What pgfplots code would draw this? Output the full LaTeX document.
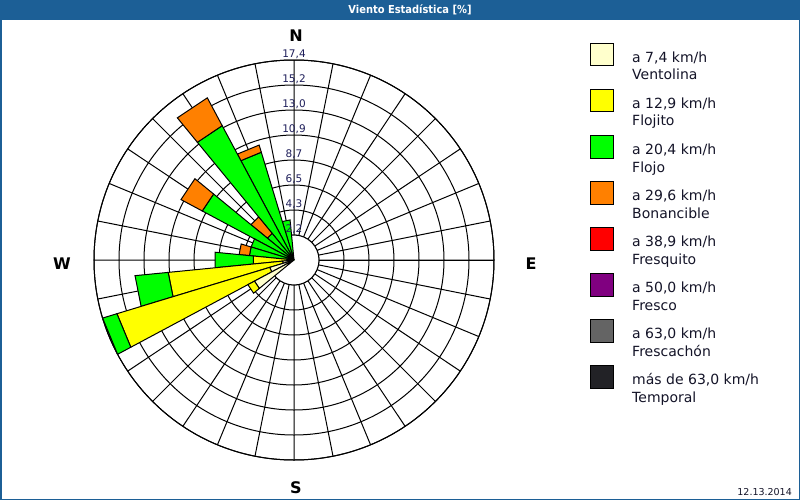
\documentclass[border=0pt]{standalone}
\usepackage{fontspec}
\setmainfont{DejaVu Sans}
\usepackage{graphicx}
\usepackage{pgfplots}
\pgfplotsset{compat=1.18}
\usepgfplotslibrary{polar}
\definecolor{titleblue}{RGB}{28,95,150}
\definecolor{cVent}{RGB}{255,255,204}
\definecolor{cFlojito}{RGB}{255,255,0}
\definecolor{cFlojo}{RGB}{0,255,0}
\definecolor{cBonan}{RGB}{255,128,0}
\definecolor{cFresq}{RGB}{255,0,0}
\definecolor{cFresco}{RGB}{128,0,128}
\definecolor{cFrescachon}{RGB}{100,100,100}
\definecolor{cTemp}{RGB}{34,34,38}
\definecolor{labblue}{RGB}{30,30,90}
\definecolor{legtext}{RGB}{20,20,40}
\begin{document}
\begin{tikzpicture}
\useasboundingbox (0pt,0pt) rectangle (800pt,-500pt);
\fill[white] (0pt,0pt) rectangle (800pt,-500pt);
\fill[titleblue] (0pt,0pt) rectangle (800pt,-20pt);
\draw[titleblue,line width=1.5pt] (0.75pt,-0.75pt) rectangle (799.25pt,-499.25pt);
\node[text=white,font=\bfseries\fontsize{11}{13}\selectfont] at (410pt,-10pt) {\scalebox{0.9}[1]{Viento Estadística [\%]}};

\begin{polaraxis}[
  at={(294pt,-260pt)}, anchor=center,
  scale only axis, width=400pt, height=400pt,
  xmin=0, xmax=360, ymin=0, ymax=17.4,
  xtick={0,11.25,...,348.75},
  ytick={2.175,4.35,6.525,8.7,10.875,13.05,15.225,17.4},
  xticklabels={}, yticklabels={},
  major tick length=0pt,
  grid=major,
  major grid style={black,line width=1pt},
  axis line style={black,line width=1pt},
  clip=false,
]
% inner calm disk (covers spokes)
\addplot[fill=white,draw=black,line width=1pt] coordinates {
(0,2.175) (11.25,2.175) (22.5,2.175) (33.75,2.175) (45,2.175) (56.25,2.175) (67.5,2.175) (78.75,2.175)
(90,2.175) (101.25,2.175) (112.5,2.175) (123.75,2.175) (135,2.175) (146.25,2.175) (157.5,2.175) (168.75,2.175)
(180,2.175) (191.25,2.175) (202.5,2.175) (213.75,2.175) (225,2.175) (236.25,2.175) (247.5,2.175) (258.75,2.175)
(270,2.175) (281.25,2.175) (292.5,2.175) (303.75,2.175) (315,2.175) (326.25,2.175) (337.5,2.175) (348.75,2.175) (360,2.175)};

\pgfplotsset{bar/.style={draw=black,line width=1pt,line join=miter}}
% k=-1
\addplot[bar,fill=cFlojo] coordinates {(101.25,0) (95.625,3.5) (106.875,3.5) (101.25,0)};
% k=-2
\addplot[bar,fill=cFlojo] coordinates {(112.5,0) (106.875,9.8) (118.125,9.8) (112.5,0)};
\addplot[bar,fill=cBonan] coordinates {(106.875,9.8) (118.125,9.8) (118.125,10.45) (106.875,10.45) (106.875,9.8)};
% k=-3
\addplot[bar,fill=cFlojo] coordinates {(123.75,0) (118.125,13.25) (129.375,13.25) (123.75,0)};
\addplot[bar,fill=cBonan] coordinates {(118.125,13.25) (129.375,13.25) (129.375,16.0) (118.125,16.0) (118.125,13.25)};
% k=-4
\addplot[bar,fill=cFlojo] coordinates {(135,0) (129.375,3.0) (140.625,3.0) (135,0)};
\addplot[bar,fill=cBonan] coordinates {(129.375,3.0) (140.625,3.0) (140.625,4.85) (129.375,4.85) (129.375,3.0)};
% k=-5
\addplot[bar,fill=cFlojo] coordinates {(146.25,0) (140.625,9.05) (151.875,9.05) (146.25,0)};
\addplot[bar,fill=cBonan] coordinates {(140.625,9.05) (151.875,9.05) (151.875,11.15) (140.625,11.15) (140.625,9.05)};
% k=-6
\addplot[bar,fill=cFlojo] coordinates {(157.5,0) (151.875,3.9) (163.125,3.9) (157.5,0)};
% k=-7
\addplot[bar,fill=cFlojo] coordinates {(168.75,0) (163.125,3.9) (174.375,3.9) (168.75,0)};
\addplot[bar,fill=cBonan] coordinates {(163.125,3.9) (174.375,3.9) (174.375,4.8) (163.125,4.8) (163.125,3.9)};
% k=-8 (W)
\addplot[bar,fill=cFlojito] coordinates {(180,0) (174.375,3.55) (185.625,3.55) (180,0)};
\addplot[bar,fill=cFlojo] coordinates {(174.375,3.55) (185.625,3.55) (185.625,6.9) (174.375,6.9) (174.375,3.55)};
% k=-9
\addplot[bar,fill=cVent] coordinates {(191.25,0) (185.625,1.0) (196.875,1.0) (191.25,0)};
\addplot[bar,fill=cFlojito] coordinates {(185.625,1.0) (196.875,1.0) (196.875,11.0) (185.625,11.0) (185.625,1.0)};
\addplot[bar,fill=cFlojo] coordinates {(185.625,11.0) (196.875,11.0) (196.875,13.9) (185.625,13.9) (185.625,11.0)};
% k=-10
\addplot[bar,fill=cVent] coordinates {(202.5,0) (196.875,2.2) (208.125,2.2) (202.5,0)};
\addplot[bar,fill=cFlojito] coordinates {(196.875,2.2) (208.125,2.2) (208.125,16.1) (196.875,16.1) (196.875,2.2)};
\addplot[bar,fill=cFlojo] coordinates {(196.875,16.1) (208.125,16.1) (208.125,17.4) (196.875,17.4) (196.875,16.1)};
% k=-11
\addplot[bar,fill=cVent] coordinates {(213.75,0) (208.125,3.9) (219.375,3.9) (213.75,0)};
\addplot[bar,fill=cFlojito] coordinates {(208.125,3.9) (219.375,3.9) (219.375,4.55) (208.125,4.55) (208.125,3.9)};

% ring labels
\foreach \r/\t in {2.175/{2,2},4.35/{4,3},6.525/{6,5},8.7/{8,7},10.875/{10,9},13.05/{13,0},15.225/{15,2},17.4/{17,4}}{
  \edef\temp{\noexpand\node[anchor=base,text=labblue,font=\noexpand\fontsize{10.5}{12}\noexpand\selectfont,inner sep=0pt,yshift=2.5pt] at (axis cs:90,\r) {\t};}
  \temp
}
\end{polaraxis}

% compass letters
\node[font=\bfseries\fontsize{16}{18}\selectfont] at (296pt,-36pt) {N};
\node[font=\bfseries\fontsize{16}{18}\selectfont] at (296pt,-488pt) {S};
\node[font=\bfseries\fontsize{16}{18}\selectfont] at (62pt,-264pt) {W};
\node[font=\bfseries\fontsize{16}{18}\selectfont] at (531pt,-264pt) {E};

% legend
\foreach \i/\c/\a/\b in {0/cVent/{a 7,4 km/h}/Ventolina, 1/cFlojito/{a 12,9 km/h}/Flojito, 2/cFlojo/{a 20,4 km/h}/Flojo, 3/cBonan/{a 29,6 km/h}/Bonancible, 4/cFresq/{a 38,9 km/h}/Fresquito, 5/cFresco/{a 50,0 km/h}/Fresco, 6/cFrescachon/{a 63,0 km/h}/Frescachón, 7/cTemp/{más de 63,0 km/h}/Temporal}{
  \draw[fill=\c,draw=black,line width=1pt] (590.5pt,{-43.5pt-46pt*\i}) rectangle (613pt,{-66pt-46pt*\i});
  \node[anchor=base west,inner sep=0pt,text=legtext,font=\fontsize{14}{17}\selectfont] at (632pt,{-62.5pt-46pt*\i}) {\a};
  \node[anchor=base west,inner sep=0pt,text=legtext,font=\fontsize{14}{17}\selectfont] at (632pt,{-80pt-46pt*\i}) {\b};
}

\node[anchor=base east,inner sep=0pt,text=legtext,font=\fontsize{9.5}{11}\selectfont] at (792pt,-495pt) {12.13.2014};
\end{tikzpicture}
\end{document}
